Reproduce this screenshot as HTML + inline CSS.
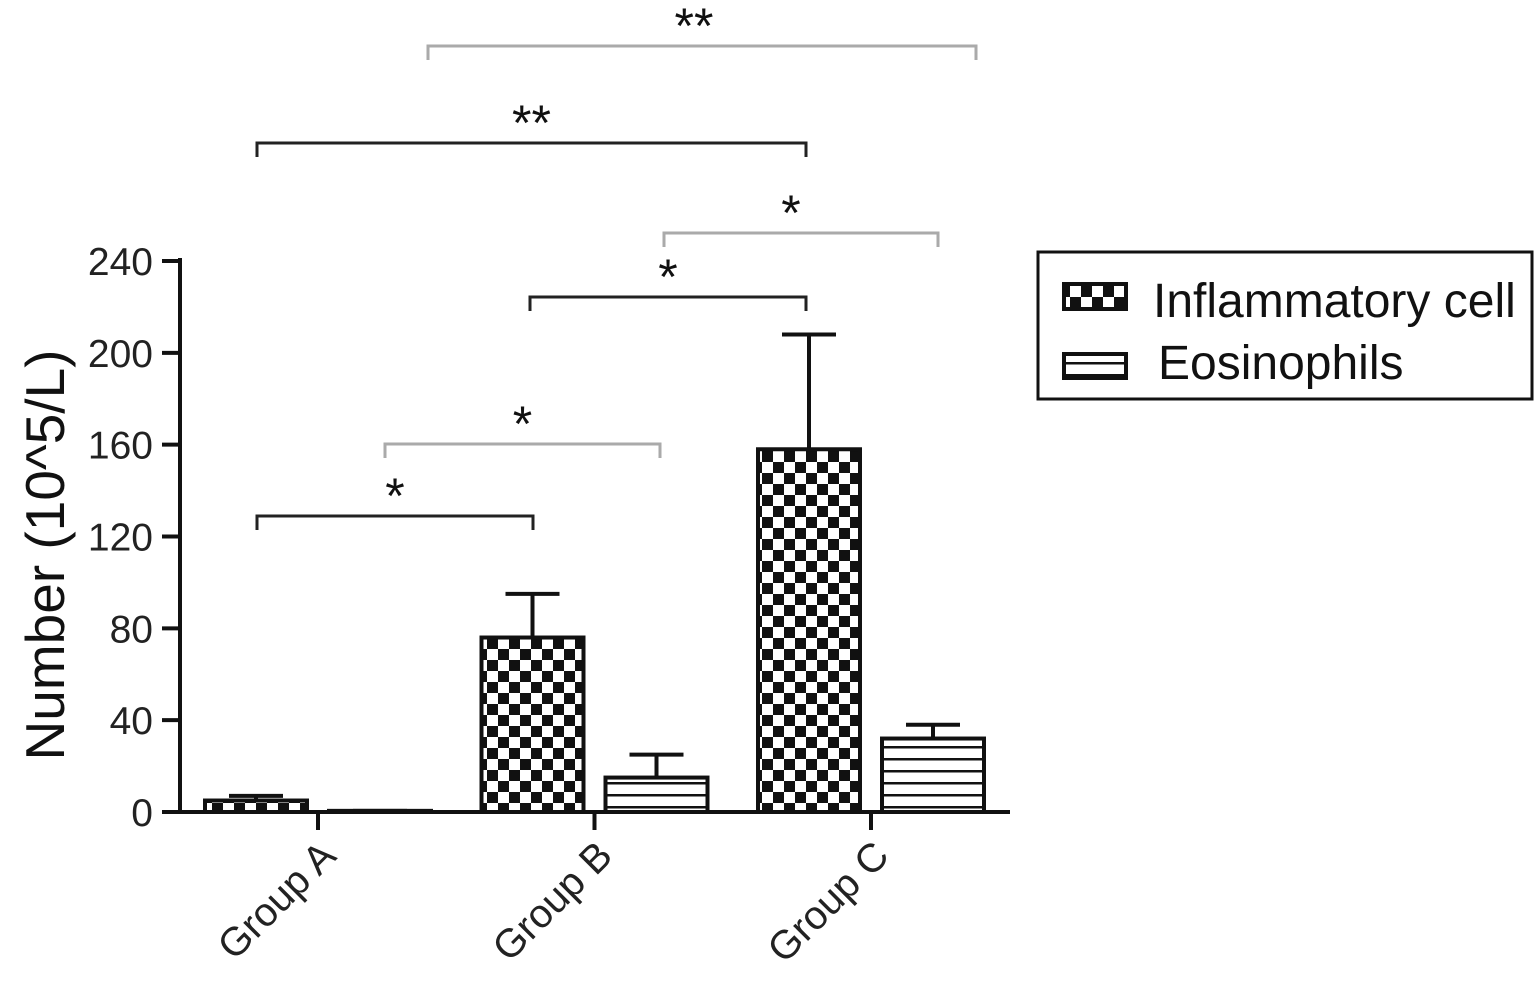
<!DOCTYPE html>
<html><head><meta charset="utf-8"><style>
body{margin:0;background:#fff;}
svg{display:block;font-family:"Liberation Sans",Arial,sans-serif;}
</style></head><body>
<svg id="chart" width="1536" height="988" viewBox="0 0 1536 988" xmlns="http://www.w3.org/2000/svg">
<defs>
<pattern id="chk" width="22" height="22" patternUnits="userSpaceOnUse" x="3" y="0">
<rect width="22" height="22" fill="#fff"/><rect width="11" height="11" fill="#111"/><rect x="11" y="11" width="11" height="11" fill="#111"/>
</pattern>
<pattern id="str" width="20" height="12" patternUnits="userSpaceOnUse" y="2">
<rect width="20" height="12" fill="#fff"/><rect y="0" width="20" height="2.5" fill="#111"/>
</pattern>
</defs>
<g id="g"></g>
</svg>
<script>
const categories=["Group A","Group B","Group C"];
const inflamVals=[5,76,158];
const inflamErr=[7,95,208];
const eosVals=[0.5,15,32];
const eosErr=[0.5,25,38];
const yTicks=[0,40,80,120,160,200,240];
const sigStars=["*","*","*","*","**","**"];
const NS="http://www.w3.org/2000/svg";
const g=document.getElementById('g');
function y(v){return 812-v*(551/240);}
function cx(i){return 318+i*276.5;}
function el(t,a,p){const e=document.createElementNS(NS,t);for(const k in a)e.setAttribute(k,a[k]);(p||g).appendChild(e);return e;}
let ax=el('line',{x1:180,y1:258,x2:180,y2:813,stroke:'#111','stroke-width':4});


let xa=el('line',{x1:165,y1:812,x2:1010,y2:812,stroke:'#111','stroke-width':4});


yTicks.forEach(v=>{
 let t=el('line',{x1:162,y1:y(v),x2:180,y2:y(v),stroke:'#111','stroke-width':4});
 
 
 let l=el('text',{x:153,y:y(v)+14,'text-anchor':'end','font-size':39,fill:'#222'});
 l.textContent=v;
 
 
});
let yl=el('text',{x:0,y:0,'text-anchor':'middle','font-size':55,fill:'#111',transform:'translate(64,555) rotate(-90)'});
yl.textContent='Number (10^5/L)';


function bar(x,w,v,e,fill,name){
 const top=y(v);
 let ln=el('line',{x1:x+w/2,y1:y(e),x2:x+w/2,y2:top,stroke:'#111','stroke-width':4});
 
 
 let cap=el('line',{x1:x+w/2-27,y1:y(e),x2:x+w/2+27,y2:y(e),stroke:'#111','stroke-width':4});
 
 
 let r=el('rect',{x:x,y:top,width:w,height:Math.max(812-top,1),fill:fill,stroke:'#111','stroke-width':4});
 
 
}
categories.forEach((c,i)=>{
 const x0=cx(i);
 bar(x0-113,102,inflamVals[i],inflamErr[i],'url(#chk)','bar-inflammatory-'+i);
 bar(x0+11,102,eosVals[i],eosErr[i],'url(#str)','bar-eosinophils-'+i);
 let t=el('line',{x1:x0,y1:812,x2:x0,y2:830,stroke:'#111','stroke-width':4});
 
 
 let l=el('text',{x:0,y:0,'text-anchor':'end','font-size':40,fill:'#222',transform:`translate(${x0+20},${858}) rotate(-45)`});
 l.textContent=c;
 
 
});
const brackets=[[257,533,516,'#222'],[385,660,444,'#aaa'],[530,806,297,'#222'],[664,938,233,'#aaa'],[257,806,143,'#222'],[428,976,46,'#aaa']];
brackets.forEach((b,i)=>{
 let p=el('path',{d:`M${b[0]},${b[2]+14}V${b[2]}H${b[1]}V${b[2]+14}`,fill:'none',stroke:b[3],'stroke-width':3});
 
 
 let s=el('text',{x:(b[0]+b[1])/2+(i==3?-10:i==5?-8:0),y:b[2]-3,'text-anchor':'middle','font-size':50,fill:'#111'});
 s.textContent=sigStars[i];
 
 
});
let lg=el('rect',{x:1038,y:252,width:494,height:147,fill:'#fff',stroke:'#111','stroke-width':3});


let s1=el('rect',{x:1064,y:284,width:62,height:25,fill:'url(#chk)',stroke:'#111','stroke-width':4});


let t1=el('text',{x:1153,y:317,'font-size':48,fill:'#111'});t1.textContent='Inflammatory cell';


let s2=el('rect',{x:1064,y:354,width:62,height:24,fill:'url(#str)',stroke:'#111','stroke-width':4});


let t2=el('text',{x:1158,y:379,'font-size':48,fill:'#111'});t2.textContent='Eosinophils';


</script>
</body></html>
